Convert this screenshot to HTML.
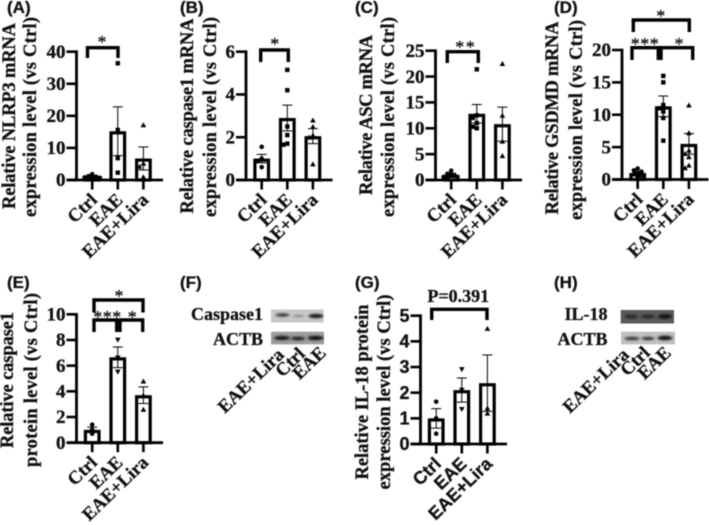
<!DOCTYPE html>
<html lang="en">
<head>
<meta charset="utf-8">
<title>Relative expression panels</title>
<style>
html,body{margin:0;padding:0;background:#fff;}
#figure{display:block;width:709px;height:525px;filter:blur(0.5px);}
text{font-family:"Liberation Serif",serif;font-weight:bold;fill:#111;stroke:#111;stroke-width:0.3px;}
.letter{font-family:"Liberation Sans",sans-serif;font-size:17px;}
.ylab{font-size:18.5px;text-anchor:middle;}
.sig{font-size:18px;text-anchor:middle;font-weight:normal;}
.bracket{fill:none;stroke:#000;stroke-width:3.4;}
.blotlab{font-size:18px;text-anchor:end;}
</style>
</head>
<body>
<svg id="figure" xmlns="http://www.w3.org/2000/svg" width="709" height="525" viewBox="0 0 709 525">
<defs>
<filter id="bandblur" x="-30%" y="-80%" width="160%" height="260%"><feGaussianBlur stdDeviation="1"/></filter>
</defs>
<rect width="709" height="525" fill="#fff"/>

<text class="letter" x="7" y="13">(A)</text>
<text class="letter" x="180" y="13">(B)</text>
<text class="letter" x="355" y="13">(C)</text>
<text class="letter" x="554" y="13">(D)</text>
<text class="letter" x="7" y="288">(E)</text>
<text class="letter" x="180" y="288">(F)</text>
<text class="letter" x="355" y="288">(G)</text>
<text class="letter" x="554" y="288">(H)</text>

<text class="ylab" transform="translate(15,116) rotate(-90)" textLength="186">Relative NLRP3 mRNA</text>
<text class="ylab" transform="translate(36,117) rotate(-90)" textLength="200">expression level  (vs Ctrl)</text>
<text class="ylab" transform="translate(193,116) rotate(-90)" textLength="195">Relative caspase1 mRNA</text>
<text class="ylab" transform="translate(216,117) rotate(-90)" textLength="200">expression level  (vs Ctrl)</text>
<text class="ylab" transform="translate(372,115) rotate(-90)" textLength="160">Relative ASC mRNA</text>
<text class="ylab" transform="translate(394,117) rotate(-90)" textLength="200">expression level  (vs Ctrl)</text>
<text class="ylab" transform="translate(558,118) rotate(-90)" textLength="193">Relative GSDMD mRNA</text>
<text class="ylab" transform="translate(582,120) rotate(-90)" textLength="200">expression level  (vs Ctrl)</text>
<text class="ylab" transform="translate(13,380) rotate(-90)" textLength="136">Relative caspase1</text>
<text class="ylab" transform="translate(37,380) rotate(-90)" textLength="174">protein  level (vs Ctrl)</text>
<text class="ylab" transform="translate(368,392) rotate(-90)" textLength="175">Relative IL-18 protein</text>
<text class="ylab" transform="translate(390,392) rotate(-90)" textLength="195">expression level (vs Ctrl)</text>

<g id="plots"></g>

<path class="bracket" d="M87.5 58V47.7H118V58"/>
<text class="sig" x="102" y="48">*</text>
<path class="bracket" d="M260.7 62V50H288.3V62"/>
<text class="sig" x="274.7" y="50">*</text>
<path class="bracket" d="M447.3 63V51.7H478.3V63"/>
<text class="sig" x="465.7" y="53" letter-spacing="1.5">**</text>
<path class="bracket" d="M633.3 32V20H689.3V32"/>
<text class="sig" x="660.7" y="22">*</text>
<path class="bracket" d="M632 60V47.7H658.3V60"/>
<text class="sig" x="645" y="50" letter-spacing="0.5">***</text>
<path class="bracket" d="M661 60V47.7H692.7V60"/>
<text class="sig" x="679" y="50">*</text>
<path class="bracket" d="M94 312.5V300H143V312.5"/>
<text class="sig" x="119" y="302">*</text>
<path class="bracket" d="M94 332V320H116.7V332"/>
<text class="sig" x="107.5" y="323" letter-spacing="0.5">***</text>
<path class="bracket" d="M120 332V320H142.7V332"/>
<text class="sig" x="132.3" y="323">*</text>
<path class="bracket" d="M431.7 320V309.3H487V320"/>
<text x="458.3" y="302" font-size="18" text-anchor="middle">P=0.391</text>

<text class="blotlab" x="263" y="320">Caspase1</text>
<text class="blotlab" x="263" y="345">ACTB</text>
<g>
<rect x="271" y="309.5" width="52.5" height="13" fill="#c9c9c9"/>
<g filter="url(#bandblur)">
<ellipse cx="282.5" cy="315" rx="7" ry="1.6" fill="#333"/>
<ellipse cx="298.5" cy="316" rx="6" ry="1.3" fill="#8a8a8a"/>
<ellipse cx="316" cy="316" rx="7.5" ry="2" fill="#111"/>
</g>
</g>
<g>
<rect x="271" y="331.7" width="53" height="12.7" fill="#9e9e9e"/>
<g filter="url(#bandblur)">
<ellipse cx="282" cy="338" rx="8" ry="2" fill="#111"/>
<ellipse cx="298" cy="338.5" rx="7" ry="1.8" fill="#1a1a1a"/>
<ellipse cx="315.5" cy="338" rx="8" ry="2.1" fill="#0c0c0c"/>
</g>
</g>
<g transform="rotate(-44 285 356)"><text x="285" y="356" font-size="18.5" text-anchor="end">EAE+Lira</text></g>
<g transform="rotate(-44 306 355)"><text x="306" y="355" font-size="18.5" text-anchor="end">Ctrl</text></g>
<g transform="rotate(-44 327 354)"><text x="327" y="354" font-size="18.5" text-anchor="end">EAE</text></g>

<text class="blotlab" x="607.5" y="320">IL-18</text>
<text class="blotlab" x="607.5" y="345">ACTB</text>
<g>
<rect x="620.7" y="310" width="53.3" height="13.5" fill="#5a5a5a"/>
<g filter="url(#bandblur)">
<ellipse cx="631" cy="316.5" rx="6.5" ry="1.8" fill="#222"/>
<ellipse cx="648" cy="316.5" rx="6.5" ry="1.8" fill="#222"/>
<ellipse cx="665" cy="316.5" rx="7" ry="2.2" fill="#111"/>
</g>
</g>
<g>
<rect x="621" y="331.7" width="54" height="12.7" fill="#c0c0c0"/>
<g filter="url(#bandblur)">
<ellipse cx="632" cy="338.5" rx="7.5" ry="1.5" fill="#222"/>
<ellipse cx="648" cy="338.5" rx="6.5" ry="1.5" fill="#222"/>
<ellipse cx="665" cy="338" rx="7.5" ry="2.2" fill="#111"/>
</g>
</g>
<g transform="rotate(-44 630 356)"><text x="630" y="356" font-size="18.5" text-anchor="end">EAE+Lira</text></g>
<g transform="rotate(-44 651 354)"><text x="651" y="354" font-size="18.5" text-anchor="end">Ctrl</text></g>
<g transform="rotate(-44 672 354)"><text x="672" y="354" font-size="18.5" text-anchor="end">EAE</text></g>
</svg>

<script>
const categories = ["Ctrl", "EAE", "EAE+Lira"];

const aTicks = [0, 10, 20, 30, 40];
const aMeans = [1, 15.2, 6.7];
const aErrors = [0.3, 7.6, 3.6];
const aCtrl = [1.8, 1.2, 1.0, 0.8, 0.7, 0.6, 0.5, 0.4];
const aEae = [36.4, 15.6, 6.8, 2.3];
const aLira = [17.2, 5.2, 4.2, 1.0];

const bTicks = [0, 2, 4, 6];
const bMeans = [1, 2.9, 2.05];
const bErrors = [0.2, 0.6, 0.35];
const bCtrl = [1.55, 1.0, 0.9, 0.6];
const bEae = [5.15, 4.2, 2.5, 2.1, 1.7, 1.65];
const bLira = [2.8, 2.5, 2.1, 2.0, 0.75];

const cTicks = [0, 5, 10, 15, 20, 25];
const cMeans = [1, 12.8, 10.8];
const cErrors = [0.3, 1.8, 3.3];
const cCtrl = [1.8, 1.2, 1.0, 0.8, 0.6, 0.4];
const cEae = [21.4, 12.5, 12.0, 11.0, 10.3, 10.0];
const cLira = [22.5, 12.5, 7.5, 4.7];

const dTicks = [0, 5, 10, 15, 20];
const dMeans = [1, 11.3, 5.5];
const dErrors = [0.2, 1.6, 1.6];
const dCtrl = [1.7, 1.4, 1.2, 1.0, 0.8, 0.6, 0.4];
const dEae = [16, 15, 11.5, 11, 10.5, 9.5, 6];
const dLira = [11.5, 7.2, 4.5, 4.0, 3.5, 2.2, 1.8];

const eTicks = [0, 2, 4, 6, 8, 10];
const eMeans = [1, 6.65, 3.7];
const eErrors = [0.2, 0.8, 0.65];
const eCtrl = [1.4, 1.0, 0.7];
const eEae = [8.0, 6.6, 5.5];
const eLira = [4.8, 3.7, 2.6];

const gTicks = [0, 1, 2, 3, 4, 5];
const gMeans = [1, 2.1, 2.37];
const gErrors = [0.38, 0.47, 1.1];
const gCtrl = [1.65, 1.0, 0.4];
const gEae = [2.9, 2.1, 1.35];
const gLira = [4.5, 1.4, 1.2];

const SVG_NS = "http://www.w3.org/2000/svg";
const plots = document.getElementById("plots");

function make(parent, tag, attrs, content) {
  const node = document.createElementNS(SVG_NS, tag);
  for (const key in attrs) node.setAttribute(key, attrs[key]);
  if (content !== undefined) node.textContent = content;
  parent.appendChild(node);
  return node;
}

function swarm(values, yScale, gap) {
  const placed = [];
  return values.map(function (v) {
    const py = yScale(v);
    const steps = [0, -1, 1, -2, 2];
    for (const s of steps) {
      const dx = s * gap;
      const clash = placed.some(function (p) {
        return Math.abs(p.dx - dx) < gap && Math.abs(p.py - py) < gap;
      });
      if (!clash || s === 2) {
        placed.push({ dx: dx, py: py });
        return dx;
      }
    }
    return 0;
  });
}

function marker(parent, shape, cx, cy) {
  let m;
  if (shape === "circle") {
    m = make(parent, "circle", { cx: cx, cy: cy, r: 2.3, fill: "#000" });
  } else if (shape === "square") {
    m = make(parent, "rect", { x: cx - 2.2, y: cy - 2.2, width: 4.4, height: 4.4, fill: "#000" });
  } else if (shape === "up") {
    m = make(parent, "path", { d: "M" + cx + " " + (cy - 2.6) + "l2.8 5h-5.6z", fill: "#000" });
  } else {
    m = make(parent, "path", { d: "M" + cx + " " + (cy + 2.6) + "l2.8 -5h-5.6z", fill: "#000" });
  }
  
  
}

function drawPanel(opt) {
  const g = make(plots, "g", {});
  
  

  const ticks = opt.ticks;
  const yMax = ticks[ticks.length - 1];
  const yScale = function (v) { return opt.bottom - (v / yMax) * (opt.bottom - opt.top); };
  const xScale = function (i) { return opt.axisX + 15.7 + 25.6 * i; };
  const fontFamily = opt.sans ? '"Liberation Sans",sans-serif' : '"Liberation Serif",serif';
  const labelSize = opt.sans ? 18 : 18.5;
  const barStroke = 3.2;

  categories.forEach(function (cat, i) {
    const cx = xScale(i);
    const w = 13.6;
    const barTop = yScale(opt.means[i]) + barStroke / 2;
    const bar = make(g, "rect", {
      x: cx - w / 2, y: barTop, width: w,
      height: Math.max(0, opt.bottom - barTop),
      fill: "#fff", stroke: "#000", "stroke-width": barStroke
    });
    
    

    const hi = yScale(opt.means[i] + opt.errors[i]);
    const lo = yScale(opt.means[i] - opt.errors[i]);
    const err = make(g, "path", {
      d: "M" + (cx - 5) + " " + hi + "H" + (cx + 5) + "M" + cx + " " + hi + "V" + lo + "M" + (cx - 5) + " " + lo + "H" + (cx + 5),
      fill: "none", stroke: "#000", "stroke-width": 1
    });
    
    

    const xTick = make(g, "line", {
      x1: cx, x2: cx, y1: opt.bottom, y2: opt.bottom + 9.5,
      stroke: "#000", "stroke-width": 2.6
    });
    
    

    const lx = cx + 6;
    const ly = opt.bottom + 21;
    const label = make(g, "text", {
      x: lx, y: ly, "text-anchor": "end",
      transform: "rotate(-44 " + lx + " " + ly + ")",
      style: "font-size:" + labelSize + "px;font-family:" + fontFamily
    }, cat);
    
    
  });

  const groups = [opt.ctrl, opt.eae, opt.lira];
  groups.forEach(function (vals, i) {
    const offsets = swarm(vals, yScale, 3.8);
    vals.forEach(function (v, k) {
      marker(g, opt.shapes[i], xScale(i) + offsets[k], yScale(v));
    });
  });

  const yAxis = make(g, "line", {
    x1: opt.axisX, x2: opt.axisX, y1: opt.top - 1.3, y2: opt.bottom + 1.3,
    stroke: "#000", "stroke-width": 2.8
  });
  
  

  const xAxis = make(g, "line", {
    x1: opt.axisX - 10, x2: opt.axisX + 86.5, y1: opt.bottom, y2: opt.bottom,
    stroke: "#000", "stroke-width": 2.8
  });
  
  

  ticks.forEach(function (t) {
    const py = yScale(t);
    const tick = make(g, "line", {
      x1: opt.axisX - 10, x2: opt.axisX, y1: py, y2: py,
      stroke: "#000", "stroke-width": 2.6
    });
    
    

    const label = make(g, "text", {
      x: opt.axisX - 11, y: py + 6.2, "text-anchor": "end",
      style: "font-size:" + (opt.sans ? 18 : 19) + "px;font-family:" + fontFamily
    }, String(t));
    
    
  });
}

const tradShapes = ["circle", "square", "up"];
const proteinShapes = ["circle", "down", "up"];

drawPanel({ axisX: 76.5, top: 51.7, bottom: 180, ticks: aTicks, means: aMeans, errors: aErrors, ctrl: aCtrl, eae: aEae, lira: aLira, shapes: tradShapes });
drawPanel({ axisX: 246, top: 51.7, bottom: 180, ticks: bTicks, means: bMeans, errors: bErrors, ctrl: bCtrl, eae: bEae, lira: bLira, shapes: tradShapes });
drawPanel({ axisX: 435.5, top: 50.7, bottom: 180, ticks: cTicks, means: cMeans, errors: cErrors, ctrl: cCtrl, eae: cEae, lira: cLira, shapes: tradShapes });
drawPanel({ axisX: 622, top: 50, bottom: 179.5, ticks: dTicks, means: dMeans, errors: dErrors, ctrl: dCtrl, eae: dEae, lira: dLira, shapes: tradShapes });
drawPanel({ axisX: 76.5, top: 314.3, bottom: 442.7, ticks: eTicks, means: eMeans, errors: eErrors, ctrl: eCtrl, eae: eEae, lira: eLira, shapes: proteinShapes });
drawPanel({ axisX: 420.5, top: 315.7, bottom: 444, ticks: gTicks, means: gMeans, errors: gErrors, ctrl: gCtrl, eae: gEae, lira: gLira, shapes: proteinShapes, sans: true });
</script>
</body>
</html>
